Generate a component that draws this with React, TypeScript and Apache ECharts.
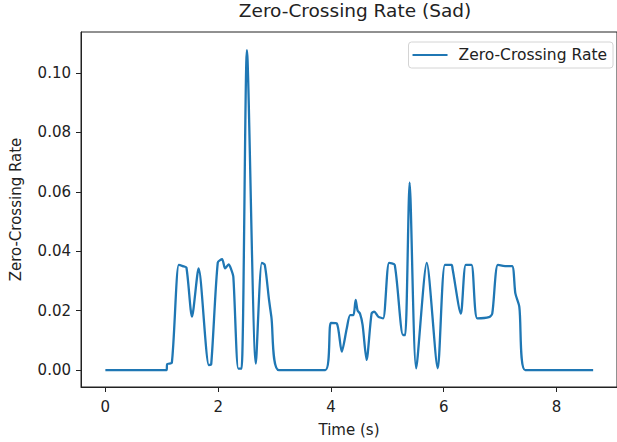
import React, { useEffect, useRef } from "react";
import * as echarts from "echarts";

const times: number[] = [
  0, 1.085, 1.096, 1.179, 1.302, 1.372, 1.437, 1.536, 1.653, 1.835, 1.877, 1.993, 2.07, 2.123, 2.186,
  2.229, 2.269, 2.357, 2.415, 2.51, 2.668, 2.774, 2.827, 2.902, 2.943, 3.078, 3.9, 3.998, 4.104, 4.192,
  4.28, 4.34, 4.398, 4.438, 4.473, 4.515, 4.561, 4.632, 4.72, 4.767, 4.838, 4.925, 5.031, 5.131, 5.277,
  5.318, 5.395, 5.511, 5.699, 5.893, 6.021, 6.139, 6.157, 6.303, 6.391, 6.491, 6.596, 6.802, 6.86, 6.96,
  7.089, 7.212, 7.27, 7.34, 7.446, 8.649,
];

const zcr: number[] = [
  0, 0, 0.002, 0.0025, 0.0354, 0.035, 0.0345, 0.018, 0.0342, 0.0017, 0.002, 0.0362, 0.0373, 0.0342, 0.0356,
  0.034, 0.0314, 0.0005, 0.0005, 0.1077, 0.0022, 0.0361, 0.0354, 0.0236, 0.018, 0, 0, 0.0159, 0.0157, 0.0062,
  0.014, 0.0185, 0.0185, 0.0236, 0.02, 0.019, 0.0152, 0.0034, 0.019, 0.0197, 0.018, 0.0174, 0.0361, 0.0354, 0.0118,
  0.0118, 0.0631, 0.0006, 0.0361, 0.0006, 0.0354, 0.0354, 0.034, 0.019, 0.0354, 0.0354, 0.0174, 0.0178, 0.019, 0.0354,
  0.035, 0.035, 0.0258, 0.0213, 0, 0,
];

const xTicks: number[] = [0, 2, 4, 6, 8];
const yTicks: number[] = [0, 0.02, 0.04, 0.06, 0.08, 0.1];

const TITLE = "Zero-Crossing Rate (Sad)";
const SERIES_NAME = "Zero-Crossing Rate";
const X_NAME = "Time (s)";
const Y_NAME = "Zero-Crossing Rate";

export default function App() {
  const ref = useRef<HTMLDivElement>(null);
  useEffect(() => {
    document.body.style.margin = "0";
    if (!ref.current) return;
    const chart = echarts.init(ref.current, undefined, { renderer: "svg" });
    const font = "DejaVu Sans";
    const txt = "#222";
    chart.setOption({
      animation: false,
      backgroundColor: "#ffffff",
      title: {
        text: TITLE,
        left: 350,
        textAlign: "center",
        top: -4,
        textStyle: { fontFamily: font, fontSize: 18.5, fontWeight: "normal", color: txt },
      },
      legend: {
        data: [SERIES_NAME],
        right: 4,
        top: 42,
        icon: "rect",
        itemWidth: 35,
        itemHeight: 2,
        padding: [5, 6, 5, 4],
        backgroundColor: "#ffffff",
        borderColor: "#d4d4d4",
        borderWidth: 1,
        borderRadius: 3,
        textStyle: { fontFamily: font, fontSize: 15.5, color: txt, padding: [0, 0, 0, 6] },
      },
      grid: {
        left: 80,
        top: 32,
        width: 540,
        height: 355,
        show: true,
        borderColor: "#222",
        borderWidth: 1,
        containLabel: false,
      },
      xAxis: {
        type: "value",
        min: -0.432,
        max: 9.072,
        name: X_NAME,
        nameLocation: "middle",
        nameGap: 35,
        nameTextStyle: { fontFamily: font, fontSize: 15, color: txt },
        axisLine: { show: true, onZero: false, lineStyle: { color: "#222", width: 1 } },
        axisTick: { show: true, length: 5, lineStyle: { color: "#222" }, customValues: xTicks },
        axisLabel: {
          fontFamily: font,
          fontSize: 15,
          color: txt,
          margin: 12,
          customValues: xTicks,
          formatter: (v: number) => String(v),
        },
        splitLine: { show: false },
      },
      yAxis: {
        type: "value",
        min: -0.0057,
        max: 0.1138,
        name: Y_NAME,
        nameLocation: "middle",
        nameGap: 58,
        nameTextStyle: { fontFamily: font, fontSize: 15, color: txt },
        axisLine: { show: true, onZero: false, lineStyle: { color: "#222", width: 1 } },
        axisTick: { show: true, length: 5, lineStyle: { color: "#222" }, customValues: yTicks },
        axisLabel: {
          fontFamily: font,
          fontSize: 15,
          color: txt,
          margin: 10,
          customValues: yTicks,
          formatter: (v: number) => v.toFixed(2),
        },
        splitLine: { show: false },
      },
      series: [
        {
          name: SERIES_NAME,
          type: "line",
          data: times.map((t, i) => [t, zcr[i]]),
          showSymbol: false,
          symbol: "none",
          smooth: 0.25,
          lineStyle: { color: "#1f77b4", width: 2.3 },
          itemStyle: { color: "#1f77b4" },
          clip: true,
        },
      ],
    });
    return () => chart.dispose();
  }, []);
  return <div ref={ref} style={{ width: 617, height: 442 }} />;
}
